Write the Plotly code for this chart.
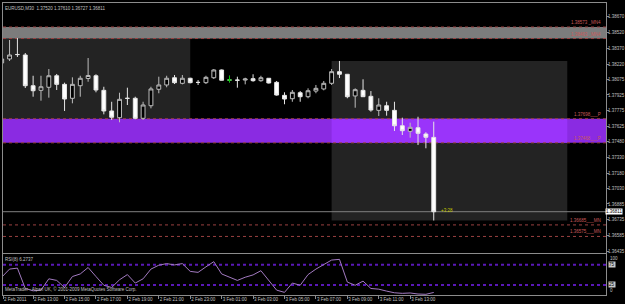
import plotly.graph_objects as go
import pandas as pd

# ---------------- data ----------------
bar_times = pd.date_range("2011-02-02 11:00", periods=56, freq="30min")

opens = [1.38230, 1.38268, 1.38311, 1.38306, 1.38013, 1.37969, 1.37998, 1.38108, 1.38026, 1.37893,
         1.38013, 1.38082, 1.38108, 1.37969, 1.37772, 1.37708, 1.37893, 1.37893, 1.37702, 1.37822,
         1.37979, 1.38020, 1.38089, 1.38036, 1.38084, 1.38045, 1.38042, 1.38089, 1.38163, 1.38067,
         1.38067, 1.38067, 1.38080, 1.38061, 1.38084, 1.38045, 1.37921, 1.37889, 1.37946, 1.37908,
         1.37962, 1.37982, 1.38036, 1.38147, 1.38122, 1.37915, 1.37969, 1.37912, 1.37778, 1.37822,
         1.37778, 1.37631, 1.37578, 1.37612, 1.37552, 1.37520]
highs = [1.38287, 1.38449, 1.38468, 1.38325, 1.38108, 1.38108, 1.38172, 1.38125, 1.38042, 1.38093,
         1.38108, 1.38277, 1.38122, 1.38003, 1.37860, 1.37946, 1.37994, 1.37908, 1.37860, 1.38003,
         1.38099, 1.38108, 1.38115, 1.38115, 1.38089, 1.38067, 1.38108, 1.38172, 1.38168, 1.38108,
         1.38099, 1.38089, 1.38122, 1.38108, 1.38086, 1.38058, 1.37950, 1.37972, 1.37962, 1.37988,
         1.38020, 1.38058, 1.38172, 1.38249, 1.38125, 1.37988, 1.38074, 1.37962, 1.37893, 1.37860,
         1.37860, 1.37708, 1.37660, 1.37717, 1.37569, 1.37670]
lows = [1.38201, 1.38249, 1.38287, 1.37991, 1.37908, 1.37870, 1.37899, 1.37972, 1.37772, 1.37845,
        1.37908, 1.38051, 1.37950, 1.37740, 1.37686, 1.37664, 1.37829, 1.37693, 1.37686, 1.37797,
        1.37941, 1.37998, 1.38029, 1.38026, 1.38036, 1.38020, 1.38029, 1.38077, 1.38063, 1.38045,
        1.37994, 1.38026, 1.38051, 1.38051, 1.38034, 1.37918, 1.37836, 1.37860, 1.37860, 1.37893,
        1.37941, 1.37969, 1.38020, 1.38086, 1.37893, 1.37803, 1.37905, 1.37765, 1.37724, 1.37727,
        1.37581, 1.37543, 1.37517, 1.37447, 1.37416, 1.36727]
closes = [1.38268, 1.38306, 1.38310, 1.38013, 1.37965, 1.38003, 1.38108, 1.38026, 1.37886, 1.38026,
          1.38084, 1.38110, 1.37972, 1.37772, 1.37712, 1.37883, 1.37892, 1.37702, 1.37829, 1.37982,
          1.38020, 1.38084, 1.38042, 1.38084, 1.38042, 1.38044, 1.38093, 1.38163, 1.38065, 1.38067,
          1.38065, 1.38077, 1.38061, 1.38089, 1.38039, 1.37924, 1.37886, 1.37950, 1.37908, 1.37965,
          1.37988, 1.38036, 1.38147, 1.38122, 1.37908, 1.37975, 1.37908, 1.37781, 1.37829, 1.37778,
          1.37631, 1.37584, 1.37616, 1.37559, 1.37521, 1.36811]
rsi_values = [43.9, 64.0, 66.4, 16.1, 10.3, 12.0, 40.0, 36.0, 18.5, 45.6,
              52.0, 67.9, 45.6, 24.0, 18.5, 37.6, 50.4, 29.5, 40.0, 64.0,
              73.6, 77.5, 74.3, 77.5, 58.3, 55.9, 69.5, 82.3, 52.0, 43.9,
              36.0, 43.9, 49.6, 60.0, 36.0, 12.0, 6.5, 29.5, 24.0, 50.4,
              64.0, 74.3, 86.3, 88.0, 31.9, 24.0, 34.3, 16.1, 14.4, 9.6,
              5.5, 4.1, 5.0, 2.4, 1.7, 6.27]

price_tick_vals = [1.38670, 1.38520, 1.38370, 1.38220, 1.38075, 1.37925, 1.37775, 1.37625,
                   1.37480, 1.37330, 1.37180, 1.37030, 1.36885, 1.36735, 1.36585, 1.36435]
price_tick_text = ["1.38670", "1.38520", "1.38370", "1.38220", "1.38075", "1.37925", "1.37775", "1.37625",
                   "1.37480", "1.37330", "1.37180", "1.37030", "1.36885", "1.36735", "1.36585", "1.36435"]

time_tick_vals = ["2011-02-02 11:05", "2011-02-02 13:00", "2011-02-02 15:00", "2011-02-02 17:00",
                  "2011-02-02 19:00", "2011-02-02 21:00", "2011-02-02 23:00", "2011-02-03 01:00",
                  "2011-02-03 03:00", "2011-02-03 05:00", "2011-02-03 07:00", "2011-02-03 09:00",
                  "2011-02-03 11:00", "2011-02-03 13:00"]
time_tick_text = ["2 Feb 2011", "2 Feb 13:00", "2 Feb 15:00", "2 Feb 17:00", "2 Feb 19:00",
                  "2 Feb 21:00", "2 Feb 23:00", "3 Feb 01:00", "3 Feb 03:00", "3 Feb 05:00",
                  "3 Feb 07:00", "3 Feb 09:00", "3 Feb 11:00", "3 Feb 13:00"]

mn_upper_levels = [1.38573, 1.38463]
mn_upper_labels = ["1.38573 _MN4", "1.38463 _MN4"]
pivot_levels = [1.37698, 1.37468]
pivot_labels = ["1.37698___P", "1.37468___P"]
mn_lower_levels = [1.36685, 1.36575]
mn_lower_labels = ["1.36685___MN", "1.36575___MN"]
bid_price = 1.36811
bid_label = "1.36811"
rsi_levels = [75, 25]

box1_times = ["2011-02-02 08:00", "2011-02-02 23:00"]
box1_prices = [1.37698, 1.38463]
box2_times = ["2011-02-03 08:00", "2011-02-03 23:00"]
box2_prices = [1.36727, 1.38249]

title_text = "EURUSD,M30  1.37520 1.37610 1.36727 1.36811"
rsi_text = "RSI(8) 6.2737"
footer_text = "MetaTrader - Alpari UK, \u00a9 2001-2009 MetaQuotes Software Corp."
timer_text = "+3:28"

x_range = ["2011-02-02 11:04:57", "2011-02-04 01:27:54"]

# ---------------- figure ----------------
FONT = "Liberation Sans"
FS = 4.5
TXT = "#c0c0c0"
LINE = "#8c8c8c"

fig = go.Figure()

fig.add_trace(go.Candlestick(
    x=bar_times, open=opens, high=highs, low=lows, close=closes,
    increasing=dict(line=dict(color="#bdbdbd", width=1), fillcolor="#000000"),
    decreasing=dict(line=dict(color="#e6e6e6", width=1), fillcolor="#ffffff"),
    whiskerwidth=0, hoverinfo="skip", showlegend=False, xaxis="x", yaxis="y"))

# exact dojis drawn in green (MT4 line colour)
dx = pd.Timedelta(minutes=9)
dj_x, dj_y = [], []
for t, o, h, l, c in zip(bar_times, opens, highs, lows, closes):
    if o == c:
        dj_x += [t, t, None, t - dx, t + dx, None]
        dj_y += [l, h, None, o, o, None]
fig.add_trace(go.Scatter(x=dj_x, y=dj_y, mode="lines", line=dict(color="#00c800", width=1),
                         hoverinfo="skip", showlegend=False, xaxis="x", yaxis="y"))

fig.add_trace(go.Scatter(x=bar_times, y=rsi_values, mode="lines",
                         line=dict(color="#a27ac0", width=1), hoverinfo="skip",
                         showlegend=False, xaxis="x2", yaxis="y2"))

shapes = []
def full_rect(y0, y1, color):
    return dict(type="rect", xref="x", yref="y", x0=x_range[0], x1=x_range[1], y0=y0, y1=y1,
                fillcolor=color, line=dict(width=0), layer="below")

def full_line(y, color, dash, yref="y", xref="x", width=1):
    return dict(type="line", xref=xref, yref=yref, x0=x_range[0], x1=x_range[1], y0=y, y1=y,
                line=dict(color=color, width=width, dash=dash), layer="below")

# boxes
shapes.append(dict(type="rect", xref="x", yref="y", x0=box1_times[0], x1=box1_times[1],
                   y0=box1_prices[0], y1=box1_prices[1], fillcolor="#232323", line=dict(width=0), layer="below"))
shapes.append(dict(type="rect", xref="x", yref="y", x0=box2_times[0], x1=box2_times[1],
                   y0=box2_prices[0], y1=box2_prices[1], fillcolor="#232323", line=dict(width=0), layer="below"))
# gray band
shapes.append(full_rect(mn_upper_levels[1], mn_upper_levels[0], "#7c7c7c"))
# purple band
shapes.append(full_rect(pivot_levels[1], pivot_levels[0], "#8a2be2"))
shapes.append(dict(type="rect", xref="x", yref="y", x0=box2_times[0], x1=box2_times[1],
                   y0=pivot_levels[1], y1=pivot_levels[0], fillcolor="#9a34fa", line=dict(width=0), layer="below"))
# dotted level lines
for lv in mn_upper_levels + pivot_levels + mn_lower_levels:
    shapes.append(full_line(lv, "#9a4040", "dot"))
# bid line
shapes.append(full_line(bid_price, "#808080", "solid"))
# rsi levels
for lv in rsi_levels:
    shapes.append(full_line(lv, "#5a18b8", "dot", yref="y2", xref="x2", width=2))

ann = []
ann.append(dict(text=title_text, xref="paper", yref="paper", x=0.0, y=1.0, xanchor="left", yanchor="top",
                yshift=-1, xshift=0, showarrow=False, font=dict(family=FONT, size=FS, color=TXT)))
for lv, lb in zip(mn_upper_levels + pivot_levels + mn_lower_levels,
                  mn_upper_labels + pivot_labels + mn_lower_labels):
    ann.append(dict(text=lb, xref="paper", yref="y", x=0.995, y=lv, xanchor="right", yanchor="bottom",
                    showarrow=False, yshift=0, font=dict(family=FONT, size=FS, color="#c85a5a")))
ann.append(dict(text=timer_text, xref="x", yref="y", x=bar_times[-1], y=closes[-1], xanchor="left",
                yanchor="middle", xshift=5, yshift=1, showarrow=False,
                font=dict(family=FONT, size=FS, color="#c8c800")))
ann.append(dict(text=bid_label, xref="paper", yref="y", x=1.0, y=bid_price, xanchor="left",
                yanchor="middle", xshift=-1, showarrow=False, bgcolor="#ffffff", borderpad=0,
                font=dict(family=FONT, size=FS, color="#000000")))
ann.append(dict(text=rsi_text, xref="paper", yref="y2", x=0.0, y=100, xanchor="left", yanchor="top",
                yshift=-1, showarrow=False, font=dict(family=FONT, size=FS, color=TXT)))
ann.append(dict(text=footer_text, xref="paper", yref="y2", x=0.0, y=0, xanchor="left", yanchor="bottom",
                yshift=1, showarrow=False, font=dict(family=FONT, size=FS, color=TXT)))
ann.append(dict(text="100", xref="paper", yref="y2", x=1.0, y=100, xanchor="left", yanchor="top",
                xshift=2, showarrow=False, font=dict(family=FONT, size=FS, color=TXT)))
ann.append(dict(text="0", xref="paper", yref="y2", x=1.0, y=0, xanchor="left", yanchor="bottom",
                xshift=2, showarrow=False, font=dict(family=FONT, size=FS, color=TXT)))
for lv in rsi_levels:
    ann.append(dict(text=str(lv), xref="paper", yref="y2", x=1.0, y=lv, xanchor="left", yanchor="middle",
                    xshift=2, showarrow=False, bgcolor="#c8c8c8", borderpad=0,
                    font=dict(family=FONT, size=FS, color="#000000")))

fig.update_layout(
    width=625, height=304,
    margin=dict(l=3, r=19, t=3, b=9, autoexpand=False),
    paper_bgcolor="#000000", plot_bgcolor="#000000",
    showlegend=False,
    shapes=shapes, annotations=ann,
    xaxis=dict(type="date", range=x_range, anchor="y", domain=[0, 1], showgrid=False, zeroline=False,
               showticklabels=False, showline=True, linecolor=LINE, linewidth=1, mirror=True,
               rangeslider=dict(visible=False), ticks="", automargin=False),
    yaxis=dict(domain=[0.1438, 1], range=[1.36417, 1.38802], side="right", anchor="x",
               tickvals=price_tick_vals, ticktext=price_tick_text, ticks="outside", ticklen=2,
               ticklabelstandoff=-2,
               tickcolor=LINE, tickfont=dict(family=FONT, size=FS, color=TXT), automargin=False,
               showgrid=False, zeroline=False, showline=True, linecolor=LINE, linewidth=1, mirror=True),
    xaxis2=dict(type="date", range=x_range, anchor="y2", matches="x", domain=[0, 1], showgrid=False,
                zeroline=False, tickvals=time_tick_vals, ticktext=time_tick_text, ticks="outside",
                ticklen=3, tickcolor=LINE, ticklabelposition="outside right", tickangle=0,
                tickfont=dict(family=FONT, size=FS, color=TXT), automargin=False,
                showline=True, linecolor=LINE, linewidth=1, mirror=True),
    yaxis2=dict(domain=[0, 0.1387], range=[0, 100], anchor="x2", showticklabels=False, ticks="",
                automargin=False,
                showgrid=False, zeroline=False, showline=True, linecolor=LINE, linewidth=1, mirror=True),
)

fig.write_html("out.html")
